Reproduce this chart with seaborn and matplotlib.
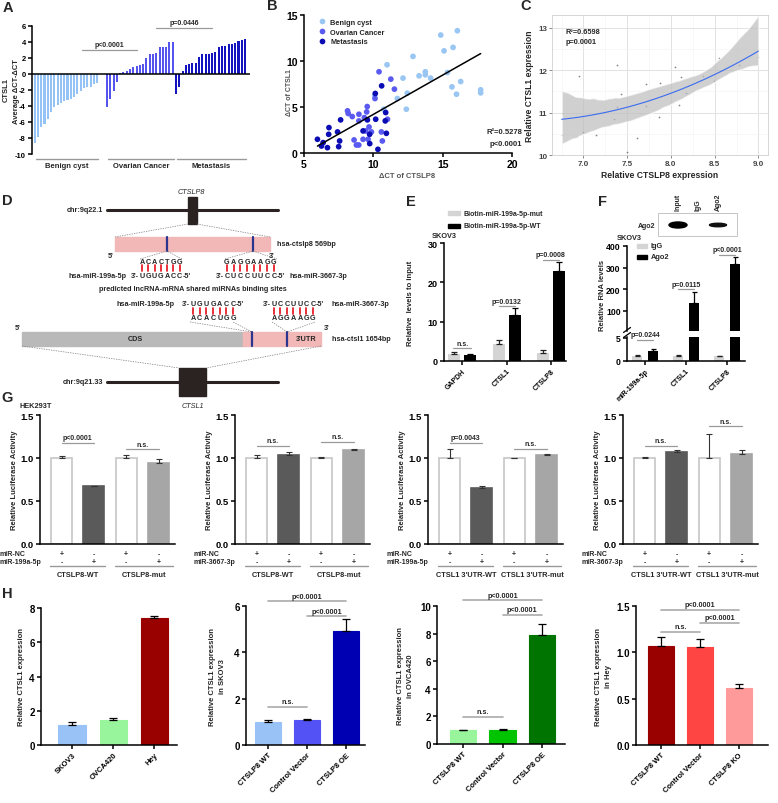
import numpy as np
import pandas as pd
import seaborn as sns
import matplotlib
matplotlib.use('Agg')
import matplotlib.pyplot as plt
from matplotlib import transforms
from matplotlib.patches import Rectangle, Ellipse
from matplotlib.ticker import AutoMinorLocator

# ---------------- data ----------------
# A: CTSL1 average dCT-dCT per sample (sorted within group)
a_benign = [-8.6, -7.9, -6.6, -6.2, -5.6, -4.7, -4.1, -3.9, -3.7, -3.4,
            -3.3, -3.2, -2.9, -2.5, -2.1, -1.75, -1.7, -1.6, -1.3, -1.1]
a_ovarian = [-4.1, -3.2, -2.1, -1.0, 0.1, 0.2, 0.3, 0.6, 0.8, 1.0, 1.1,
             1.25, 2.0, 2.5, 2.5, 2.6, 3.3, 3.4, 3.4, 4.0, 4.0]
a_meta = [-2.5, -1.6, 0.4, 1.15, 1.25, 1.3, 1.3, 2.1, 2.45, 2.5, 2.5,
          2.55, 2.75, 3.3, 3.5, 3.5, 3.7, 3.75, 3.9, 4.1, 4.2, 4.4]
a_groups = ['Benign cyst', 'Ovarian Cancer', 'Metastasis']

# B: dCT of CTSLP8 vs dCT of CTSL1
b_benign_x = [14.86, 16.06, 15.1, 15.75, 12.86, 10.99, 13.75, 13.75, 13.3, 12.14, 14.13,
              15.34, 16.3, 15.67, 16.0, 17.74, 17.74, 12.45, 11.73, 12.38, 10.75, 10.1]
b_benign_y = [12.82, 13.29, 11.1, 11.48, 10.5, 9.59, 8.83, 8.5, 8.39, 8.14, 8.14,
              8.75, 7.77, 7.19, 6.39, 6.87, 6.54, 6.5, 5.92, 4.76, 4.76, 6.21]
b_ovarian_x = [10.41, 11.26, 11.52, 10.12, 8.14, 8.19, 8.48, 8.96, 9.56, 9.52, 9.35, 8.96,
               9.69, 9.86, 9.45, 8.61, 8.78, 8.95, 9.26, 9.62, 10.65, 10.58, 11.02]
b_ovarian_y = [8.83, 8.03, 6.94, 5.92, 4.58, 4.29, 3.96, 4.21, 5.05, 4.47, 3.85, 3.49,
               2.83, 2.29, 2.4, 1.42, 0.87, 0.87, 1.49, 1.49, 1.31, 2.29, 3.67]
b_meta_x = [10.6, 10.14, 9.57, 7.64, 6.8, 6.78, 7.42, 5.97, 6.38, 6.26, 6.69,
            7.5, 7.57, 9.26, 9.73, 10.17, 10.94, 10.33, 9.74, 10.86, 10.89]
b_meta_y = [7.3, 6.47, 3.6, 3.6, 2.76, 2.03, 2.29, 1.49, 1.13, 0.76, 0.58,
            0.69, 1.31, 2.4, 2.03, 3.67, 2.14, 0.4, 1.02, 3.49, 4.4]

# C: relative CTSLP8 vs CTSL1 expression
c_x = [6.75, 6.76, 6.95, 6.99, 7.14, 7.35, 7.38, 7.38, 7.43, 7.50, 7.61, 7.72,
       7.72, 7.86, 7.87, 8.05, 8.09, 8.12, 8.17, 8.37, 8.49, 8.55, 8.78, 9.0]
c_y = [11.0, 10.47, 11.86, 10.55, 10.47, 10.84, 12.12, 11.13, 11.43, 10.08, 10.40, 11.68,
       11.15, 10.9, 11.7, 12.08, 11.18, 11.84, 11.47, 11.86, 11.74, 12.29, 12.13, 12.3]

# E: RNA pull-down
e_genes = ['GAPDH', 'CTSL1', 'CTSLP8']
e_mut = [1.8, 4.3, 2.0]
e_mut_err = [0.5, 1.0, 0.7]
e_wt = [1.5, 11.8, 23.0]
e_wt_err = [0.4, 1.6, 2.2]

# F: RIP
f_genes = ['miR-199a-5p', 'CTSL1', 'CTSLP8']
f_igg = [1.0, 1.0, 1.0]
f_igg_err = [0.3, 0.4, 0.1]
f_ago = [2.2, 133, 318]
f_ago_err = [0.4, 52, 30]

# G: luciferase reporter
g_vals = [[1.0, 0.67, 1.0, 0.94], [1.0, 1.04, 1.0, 1.09],
          [1.0, 0.65, 1.0, 1.04], [1.0, 1.07, 1.0, 1.05]]
g_errs = [[0.02, 0.01, 0.04, 0.05], [0.04, 0.03, 0.01, 0.01],
          [0.10, 0.02, 0.005, 0.01], [0.01, 0.02, 0.28, 0.04]]
g_mirs = ['miR-199a-5p', 'miR-3667-3p', 'miR-199a-5p', 'miR-3667-3p']
g_constructs = [('CTSLP8-WT', 'CTSLP8-mut'), ('CTSLP8-WT', 'CTSLP8-mut'),
                ("CTSL1 3'UTR-WT", "CTSL1 3'UTR-mut"), ("CTSL1 3'UTR-WT", "CTSL1 3'UTR-mut")]
g_nc_signs = ['+', '-', '+', '-']
g_mir_signs = ['-', '+', '-', '+']
g_sig = [[(0, 1, 1.18, 'p<0.0001'), (2, 3, 1.10, 'n.s.')],
         [(0, 1, 1.14, 'n.s.'), (2, 3, 1.19, 'n.s.')],
         [(0, 1, 1.18, 'p=0.0043'), (2, 3, 1.11, 'n.s.')],
         [(0, 1, 1.14, 'n.s.'), (2, 3, 1.37, 'n.s.')]]

# H: qPCR
h_labels = [['SKOV3', 'OVCA420', 'Hey'],
            ['CTSLP8 WT', 'Control Vector', 'CTSLP8 OE'],
            ['CTSLP8 WT', 'Control Vector', 'CTSLP8 OE'],
            ['CTSLP8 WT', 'Control Vector', 'CTSLP8 KO']]
h_vals = [[1.15, 1.45, 7.42], [1.0, 1.1, 4.92], [1.0, 1.05, 7.88], [1.07, 1.06, 0.62]]
h_errs = [[0.2, 0.13, 0.1], [0.08, 0.04, 0.52], [0.04, 0.04, 0.82], [0.10, 0.08, 0.04]]
h_colors = [['#99c2f7', '#99f59b', '#990000'], ['#99c2f7', '#5252f5', '#0000b3'],
            ['#99f59b', '#00c400', '#007400'], ['#990000', '#ff4444', '#ff9a9a']]
h_ylabels = ['Relative CTSL1 expression', 'Relative CTSL1 expression\nin SKOV3',
             'Relative CTSL1 expression\nin OVCA420', 'Relative CTSL1 expression\nin Hey']
h_yticks = [[0, 2, 4, 6, 8], [0, 2, 4, 6], [0, 2, 4, 6, 8, 10], [0.0, 0.5, 1.0, 1.5]]
h_sig = [[],
         [(0, 1, 1.64, 'n.s.'), (0, 2, 6.2, 'p<0.0001'), (1, 2, 5.56, 'p<0.0001')],
         [(0, 1, 1.96, 'n.s.'), (0, 2, 10.4, 'p<0.0001'), (1, 2, 9.35, 'p<0.0001')],
         [(0, 1, 1.22, 'n.s.'), (0, 2, 1.46, 'p<0.0001'), (1, 2, 1.32, 'p<0.0001')]]

# ---------------- style ----------------
sns.set_style('ticks')
plt.rcParams['font.family'] = ['Liberation Sans', 'DejaVu Sans']
plt.rcParams.update({
    'font.weight': 'bold', 'axes.labelweight': 'bold', 'axes.unicode_minus': False,
    'axes.linewidth': 1.1, 'axes.edgecolor': 'black',
    'xtick.color': 'black', 'ytick.color': 'black',
    'xtick.major.width': 1.1, 'ytick.major.width': 1.1,
    'xtick.major.size': 3, 'ytick.major.size': 3,
    'xtick.major.pad': 1.5, 'ytick.major.pad': 1.5, 'axes.labelpad': 2,
})

W, H = 778, 804
fig = plt.figure(figsize=(W / 100, H / 100), dpi=100)
fig.patch.set_facecolor('white')

ov = fig.add_axes([0, 0, 1, 1], zorder=10)
ov.set_xlim(0, W)
ov.set_ylim(H, 0)
ov.axis('off')
ov.patch.set_alpha(0)


def px_axes(l, t, r, b):
    return fig.add_axes([l / W, 1 - b / H, (r - l) / W, (b - t) / H])


def sig(ax, x1, x2, y, label, fs=5, color='#9a9a9a', lw=0.9):
    ax.plot([x1, x2], [y, y], color=color, lw=lw, clip_on=False)
    ax.annotate(label, xy=((x1 + x2) / 2, y), xytext=(0, 1.2), textcoords='offset points',
                ha='center', va='bottom', fontsize=fs, annotation_clip=False)


def errbars(ax, x, vals, errs, cap=2.2, lw=0.9, color='black'):
    # only draw the bars whose top is inside the axes range
    x, vals, errs = np.asarray(x), np.asarray(vals), np.asarray(errs)
    keep = (vals > ax.get_ylim()[0]) & (vals < ax.get_ylim()[1])
    if keep.any():
        ax.errorbar(x[keep], vals[keep], yerr=[np.zeros(keep.sum()), errs[keep]], fmt='none',
                    ecolor=color, elinewidth=lw, capsize=cap, capthick=lw)


# panel letters
for letter, (x, y) in {'A': (8, 8), 'B': (272, 6), 'C': (526, 6), 'D': (7, 201),
                       'E': (411, 202), 'F': (603, 202), 'G': (7, 398), 'H': (7, 594)}.items():
    ov.text(x, y, letter, fontsize=10.5, ha='center', va='center')

# ---------------- A ----------------
axA = px_axes(32, 26.7, 250, 155)
a_colors = ['#96c3f5', '#5555ee', '#1414be']
axA.set_xlim(-0.8, 65.5)
axA.set_ylim(-10, 6)
start = 0
a_spans = []
for vals, col, gap in zip([a_benign, a_ovarian, a_meta], a_colors, [0, 2, 0]):
    start += gap
    pos = np.arange(start, start + len(vals))
    axA.bar(pos, vals, width=0.62, color=col, linewidth=0)
    a_spans.append((pos[0], pos[-1]))
    start += len(vals)
axA.axhline(0, color='black', lw=1.1)
axA.set_yticks(range(-10, 7, 2))
axA.set_xticks([])
sns.despine(ax=axA, bottom=True)
axA.tick_params(labelsize=5.5)
ov.text(6, 90, 'CTSL1', fontsize=5.5, rotation=90, ha='center', va='center')
ov.text(17, 92, 'Average \u0394CT-\u0394CT', fontsize=5.5, rotation=90, ha='center', va='center')
tA = transforms.blended_transform_factory(axA.transData, ov.transData)
for (p0, p1), name in zip(a_spans, a_groups):
    ov.plot([p0 + 0.3, p1 + 0.3], [160, 160], color='#999999', lw=1, transform=tA)
    ov.text((p0 + p1) / 2 + 0.3, 166, name, fontsize=5.5, ha='center', va='center', transform=tA)
sig(axA, 14.5, 31, 3.0, 'p<0.0001')
sig(axA, 37, 53.8, 5.7, 'p=0.0446')

# ---------------- B ----------------
axB = px_axes(304, 16, 512, 154)
dfB = pd.DataFrame({
    'ctslp8': b_benign_x + b_ovarian_x + b_meta_x,
    'ctsl1': b_benign_y + b_ovarian_y + b_meta_y,
    'group': [a_groups[0]] * len(b_benign_x) + [a_groups[1]] * len(b_ovarian_x)
             + [a_groups[2]] * len(b_meta_x)})
b_pal = {a_groups[0]: '#99c6f3', a_groups[1]: '#5a5af0', a_groups[2]: '#0c0cb4'}
sns.scatterplot(data=dfB, x='ctslp8', y='ctsl1', hue='group', palette=b_pal, s=17,
                linewidth=0, ax=axB)
sns.regplot(data=dfB, x='ctslp8', y='ctsl1', scatter=False, ci=None, color='black',
            line_kws={'lw': 1.1}, ax=axB)
axB.set_xlim(5, 20)
axB.set_ylim(0, 15)
axB.set_xticks([5, 10, 15, 20])
axB.set_yticks([0, 5, 10, 15])
sns.despine(ax=axB)
axB.tick_params(labelsize=7.5)
axB.set_xlabel('')
axB.set_ylabel('')
axB.legend(loc='upper left', bbox_to_anchor=(0.02, 1.02), frameon=False, fontsize=5.3,
           handletextpad=0.1, labelspacing=0.35, markerscale=1.0, title=None)
ov.text(407, 177, '\u0394CT of CTSLP8', fontsize=5.5, ha='center', va='center', color='#555555')
ov.text(290, 93, '\u0394CT of CTSL1', fontsize=5, ha='center', va='center', rotation=90,
        color='#555555')
ov.text(522, 133, 'R\u00b2=0.5278', fontsize=5.5, ha='right', va='center')
ov.text(522, 144, 'p<0.0001', fontsize=5.5, ha='right', va='center')

# ---------------- C ----------------
axC = px_axes(552, 16, 768, 156)
sns.regplot(x=c_x, y=c_y, order=2, ci=95, n_boot=400, seed=7, ax=axC, color='#888888',
            scatter_kws={'s': 1.5, 'color': '#666666', 'linewidths': 0},
            line_kws={'color': '#3a6cf0', 'lw': 0.8})
for coll in axC.collections:
    if isinstance(coll, matplotlib.collections.PolyCollection):
        coll.set_facecolor('#bdbdbd')
        coll.set_alpha(0.7)
axC.set_xlim(6.64, 9.11)
axC.set_ylim(10, 13.3)
axC.set_xticks([7.0, 7.5, 8.0, 8.5, 9.0])
axC.set_xticklabels(['7.0', '7.5', '8.0', '8.5', '9.0'])
axC.set_yticks([10, 11, 12, 13])
axC.xaxis.set_minor_locator(AutoMinorLocator(2))
axC.yaxis.set_minor_locator(AutoMinorLocator(2))
axC.set_axisbelow(True)
axC.grid(True, which='major', color='#e2e2e2', lw=0.7)
axC.grid(True, which='minor', color='#f1f1f1', lw=0.4)
for s in axC.spines.values():
    s.set_color('#d0d0d0')
    s.set_linewidth(0.6)
axC.tick_params(which='both', length=0)
axC.tick_params(which='major', length=2, color='#777777', width=0.6, labelsize=5.8,
                labelcolor='#444444')
axC.set_xlabel('Relative CTSLP8 expression', fontsize=6.2, labelpad=2)
axC.set_ylabel('Relative CTSL1 expression', fontsize=6.2, labelpad=3)
ov.text(566, 33, 'R\u00b2=0.6598', fontsize=5.3, ha='left', va='center')
ov.text(566, 43, 'p=0.0001', fontsize=5.3, ha='left', va='center')

# ---------------- D (schematic) ----------------
ink = '#2b2222'
fsD = 5.2


def dash(pts):
    ov.plot([p[0] for p in pts], [p[1] for p in pts], ls=(0, (2, 1.5)), lw=0.5, color='#808080')


def seq(letters, x0, pitch, y):
    for i, ch in enumerate(letters):
        ov.text(x0 + i * pitch, y, ch, ha='center', va='center', fontsize=fsD)


def red(x0, pitch, n, y0, y1):
    for i in range(n):
        ov.plot([x0 + i * pitch] * 2, [y0, y1], color='#e8202a', lw=1.3)


ov.text(103, 211, 'chr:9q22.1', fontsize=fsD, ha='right', va='center')
ov.plot([107, 278], [211, 211], color=ink, lw=2.2)
ov.add_patch(Rectangle((188, 198), 9, 27, color=ink))
ov.text(191, 192, 'CTSLP8', fontsize=5.2, ha='center', va='center', style='italic',
        fontweight='normal')
dash([(188, 225), (115, 238)])
dash([(197, 225), (270, 238)])
ov.add_patch(Rectangle((115, 238), 155, 14, color='#f2b8b8'))
for xs in (167, 253):
    ov.plot([xs, xs], [238, 252], color='#2a3590', lw=1.6)
ov.text(277, 245, 'hsa-ctslp8 569bp', fontsize=fsD, ha='left', va='center')
ov.text(111, 256, "5'", fontsize=fsD, ha='center', va='center')
ov.text(272, 256, "3'", fontsize=fsD, ha='center', va='center')
dash([(140, 260), (167, 252), (182, 260)])
dash([(225, 260), (253, 252), (277, 260)])
seq('ACACTGG', 142, 6.3, 263)
red(142, 6.3, 7, 266, 272)
seq('UGUGACC', 142, 6.3, 277)
ov.text(139, 277, "3'-", fontsize=fsD, ha='right', va='center')
ov.text(183, 277, "-5'", fontsize=fsD, ha='left', va='center')
ov.text(127, 277, 'hsa-miR-199a-5p', fontsize=fsD, ha='right', va='center')
seq('GAGGAAGG', 227, 6.7, 263)
red(227, 6.7, 8, 266, 272)
seq('CUCCUUCC', 227, 6.7, 277)
ov.text(224, 277, "3'-", fontsize=fsD, ha='right', va='center')
ov.text(277, 277, "-5'", fontsize=fsD, ha='left', va='center')
ov.text(290, 277, 'hsa-miR-3667-3p', fontsize=fsD, ha='left', va='center')
ov.text(193, 290, 'predicted lncRNA-mRNA shared miRNAs binding sites', fontsize=fsD,
        ha='center', va='center')
ov.text(175, 305, 'hsa-miR-199a-5p', fontsize=fsD, ha='right', va='center')
ov.text(190, 305, "3'-", fontsize=fsD, ha='right', va='center')
seq('UGUGACC', 193, 6.7, 305)
ov.text(236, 305, "-5'", fontsize=fsD, ha='left', va='center')
red(193, 6.7, 7, 309, 315)
seq('ACACUGG', 193, 6.7, 319)
ov.text(271, 305, "3'-", fontsize=fsD, ha='right', va='center')
seq('UCCUUCC', 274, 6.5, 305)
ov.text(316, 305, "-5'", fontsize=fsD, ha='left', va='center')
ov.text(332, 305, 'hsa-miR-3667-3p', fontsize=fsD, ha='left', va='center')
red(274, 6.5, 7, 309, 315)
seq('AGGAAGG', 274, 6.5, 319)
dash([(190, 323), (252, 333), (233, 323)])
dash([(272, 323), (287, 333), (315, 323)])
ov.text(18, 329, "5'", fontsize=fsD, ha='center', va='center')
ov.text(327, 329, "3'", fontsize=fsD, ha='center', va='center')
ov.add_patch(Rectangle((22, 333), 221, 14, color='#b9b9b9'))
ov.add_patch(Rectangle((243, 333), 78, 14, color='#f2b8b8'))
for xs in (252, 287):
    ov.plot([xs, xs], [333, 347], color='#2a3590', lw=1.6)
ov.text(135, 340, 'CDS', fontsize=fsD, ha='center', va='center')
ov.text(306, 340, "3'UTR", fontsize=fsD, ha='center', va='center')
ov.text(332, 340, 'hsa-ctsl1 1654bp', fontsize=fsD, ha='left', va='center')
dash([(22, 347), (179, 369)])
dash([(321, 347), (206, 369)])
ov.plot([107, 278], [383, 383], color=ink, lw=2.2)
ov.add_patch(Rectangle((179, 369), 27, 28, color=ink))
ov.text(103, 383, 'chr:9q21.33', fontsize=fsD, ha='right', va='center')
ov.text(193, 407, 'CTSL1', fontsize=5.2, ha='center', va='center', style='italic',
        fontweight='normal')

# ---------------- E ----------------
axE = px_axes(444, 244, 566, 362)
axE.set_xlim(-0.41, 2.34)
axE.set_ylim(0, 30)
xe = np.arange(len(e_genes))
axE.bar(xe - 0.18, e_mut, width=0.27, color='#d4d4d4', linewidth=0)
axE.bar(xe + 0.18, e_wt, width=0.27, color='black', linewidth=0)
errbars(axE, xe - 0.18, e_mut, e_mut_err, color='#222222')
errbars(axE, xe + 0.18, e_wt, e_wt_err)
axE.set_yticks([0, 10, 20, 30])
axE.set_xticks(xe)
axE.set_xticklabels(e_genes, rotation=45, ha='right', rotation_mode='anchor', fontsize=5)
axE.tick_params(axis='y', labelsize=6.5)
sns.despine(ax=axE)
axE.set_ylabel('Relative  levels to input', fontsize=5.5, labelpad=10)
sig(axE, -0.2, 0.2, 3.2, 'n.s.')
sig(axE, 0.82, 1.18, 13.9, 'p=0.0132')
sig(axE, 1.82, 2.18, 25.7, 'p=0.0008')
ov.add_patch(Rectangle((448, 212), 12, 4, color='#d4d4d4'))
ov.text(464, 214, 'Biotin-miR-199a-5p-mut', fontsize=5, ha='left', va='center')
ov.add_patch(Rectangle((448, 225), 12, 4, color='black'))
ov.text(464, 227, 'Biotin-miR-199a-5p-WT', fontsize=5, ha='left', va='center')
ov.text(432, 237, 'SKOV3', fontsize=5.3, ha='left', va='center')

# ---------------- F ----------------
axFu = px_axes(627, 247, 745, 332)
axFl = px_axes(627, 338, 745, 362)
axFu.set_ylim(5, 400)
axFl.set_ylim(0, 5.2)
xf = np.arange(len(f_genes))
for ax in (axFu, axFl):
    ax.set_xlim(-0.44, 2.44)
    ax.bar(xf - 0.19, f_igg, width=0.24, color='#d4d4d4', linewidth=0)
    ax.bar(xf + 0.19, f_ago, width=0.24, color='black', linewidth=0)
    errbars(ax, xf - 0.19, f_igg, f_igg_err, cap=1.8, color='#222222')
    errbars(ax, xf + 0.19, f_ago, f_ago_err, cap=1.8)
    ax.tick_params(labelsize=6.2)
axFu.set_yticks([100, 200, 300, 400])
axFu.set_xticks([])
sns.despine(ax=axFu, bottom=True)
axFl.set_yticks([0, 5])
axFl.set_xticks(xf)
axFl.set_xticklabels(f_genes, rotation=45, ha='right', rotation_mode='anchor', fontsize=5)
sns.despine(ax=axFl)
sig(axFl, -0.19, 0.19, 4.6, 'p=0.0244')
sig(axFu, 0.81, 1.19, 198, 'p=0.0115')
sig(axFu, 1.81, 2.19, 358, 'p<0.0001')
for yb in (331, 336):
    ov.plot([623.5, 630.5], [yb + 2.5, yb - 2.5], color='black', lw=0.9)
ov.text(603, 295, 'Relative RNA levels', fontsize=5.5, rotation=90, ha='center', va='center')
ov.text(617, 238, 'SKOV3', fontsize=5.3, ha='left', va='center')
ov.add_patch(Rectangle((637, 245), 10, 4, color='#d4d4d4'))
ov.text(651, 247, 'IgG', fontsize=5.3, ha='left', va='center')
ov.add_patch(Rectangle((637, 256), 10, 4, color='black'))
ov.text(651, 258, 'Ago2', fontsize=5.3, ha='left', va='center')
# western blot inset
ov.add_patch(Rectangle((658, 214), 79, 23, facecolor='white', edgecolor='#bbbbbb', lw=0.6))
ov.add_patch(Ellipse((678, 226), 18, 6, color='black'))
ov.add_patch(Ellipse((718, 226), 17, 3.5, color='#111111'))
for xl, lab in zip((678, 698, 718), ('Input', 'IgG', 'Ago2')):
    ov.text(xl, 211, lab, fontsize=5, rotation=90, ha='center', va='bottom')
ov.text(655, 226, 'Ago2', fontsize=5, ha='right', va='center')

# ---------------- G ----------------
ov.text(20, 407, 'HEK293T', fontsize=5.3, ha='left', va='center')
g_left = [40, 235, 428, 623]
g_fill = ['white', '#5a5a5a', 'white', '#a6a6a6']
g_edge = ['#c6c6c6', '#5a5a5a', '#c6c6c6', '#a6a6a6']
for k in range(4):
    ax = px_axes(g_left[k], 416, g_left[k] + 135, 545)
    ax.set_xlim(-0.67, 3.51)
    ax.set_ylim(0, 1.5)
    xg = np.arange(4)
    ax.bar(xg, g_vals[k], width=0.65, color=g_fill, edgecolor=g_edge, linewidth=1.2)
    errbars(ax, xg, g_vals[k], g_errs[k], cap=2.3, lw=0.8, color='#333333')
    ax.set_yticks([0.0, 0.5, 1.0, 1.5])
    ax.set_yticklabels(['0.0', '0.5', '1.0', '1.5'])
    ax.set_xticks([])
    ax.tick_params(labelsize=6.8)
    sns.despine(ax=ax)
    ax.set_ylabel('Relative Luciferase Activity', fontsize=5.5, labelpad=2)
    for x1, x2, y, lab in g_sig[k]:
        sig(ax, x1, x2, y, lab)
    tG = transforms.blended_transform_factory(ax.transData, ov.transData)
    ov.text(g_left[k] - 41, 555, 'miR-NC', fontsize=5, ha='left', va='center')
    ov.text(g_left[k] - 41, 563, g_mirs[k], fontsize=5, ha='left', va='center')
    for xi in xg:
        ov.text(xi, 555, g_nc_signs[xi], fontsize=5, ha='center', va='center', transform=tG)
        ov.text(xi, 563, g_mir_signs[xi], fontsize=5, ha='center', va='center', transform=tG)
    for (xa, xb), lab in zip([(-0.35, 1.35), (1.65, 3.45)], g_constructs[k]):
        ov.plot([xa, xb], [566.5, 566.5], color='#999999', lw=1, transform=tG)
        ov.text((xa + xb) / 2, 576, lab, fontsize=5.3, ha='center', va='center', transform=tG)

# ---------------- H ----------------
h_box = [(41, 609, 177, 746), (246, 607, 365, 746), (437, 607, 565, 745), (636, 607, 768, 746)]
h_xlim = [(-0.76, 2.55), (-0.56, 2.49), (-0.66, 2.58), (-0.64, 2.74)]
h_pad = [3, 6, 4, 3]
for k in range(4):
    ax = px_axes(*h_box[k])
    ax.set_xlim(*h_xlim[k])
    ax.set_ylim(0, h_yticks[k][-1])
    xh = np.arange(3)
    ax.bar(xh, h_vals[k], width=0.67, color=h_colors[k], edgecolor=h_colors[k], linewidth=0.8)
    errbars(ax, xh, h_vals[k], h_errs[k], cap=2.6, lw=0.9)
    ax.set_yticks(h_yticks[k])
    if k == 3:
        ax.set_yticklabels(['0.0', '0.5', '1.0', '1.5'])
    ax.set_xticks(xh)
    ax.set_xticklabels(h_labels[k], rotation=45, ha='right', rotation_mode='anchor', fontsize=5.5)
    ax.tick_params(axis='y', labelsize=7)
    sns.despine(ax=ax)
    ax.set_ylabel(h_ylabels[k], fontsize=5.5, labelpad=h_pad[k], linespacing=1.6)
    for x1, x2, y, lab in h_sig[k]:
        sig(ax, x1, x2, y, lab, fs=5.2, color='#aaaaaa', lw=1.2)

fig.savefig('out.png', dpi=100)
